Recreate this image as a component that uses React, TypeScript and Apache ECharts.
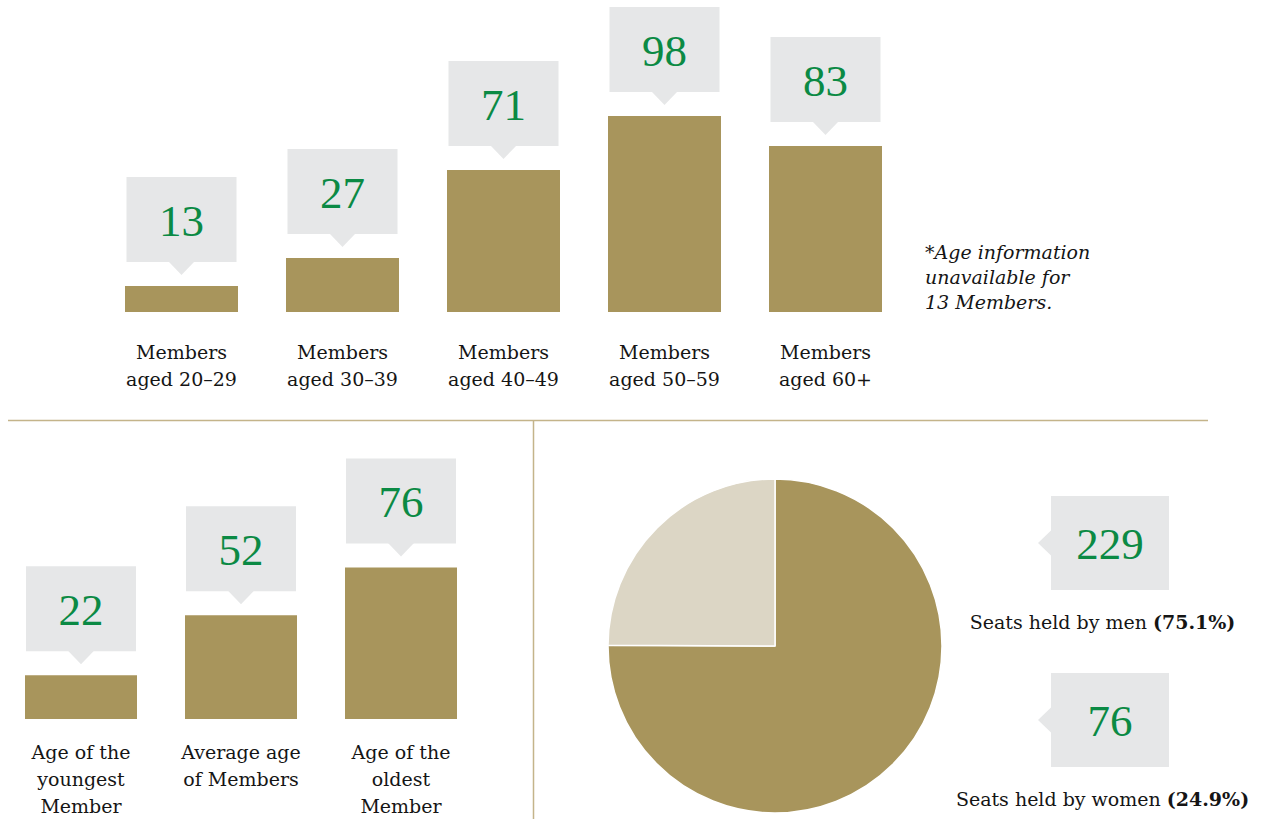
import React, { useEffect, useRef } from "react";
import * as echarts from "echarts";

const ageGroupLabels = [
  "Members\naged 20–29",
  "Members\naged 30–39",
  "Members\naged 40–49",
  "Members\naged 50–59",
  "Members\naged 60+",
];
const ageGroupCounts = [13, 27, 71, 98, 83];

const ageStatLabels = ["Age of the\nyoungest\nMember", "Average age\nof Members", "Age of the\noldest\nMember"];
const ageStatValues = [22, 52, 76];

const seatLabels = ["Seats held by men", "Seats held by women"];
const seatCounts = [229, 76];

const footnote = "*Age information\nunavailable for\n13 Members.";

const GOLD = "#a8955c";
const LIGHT = "#dcd6c5";
const BOX = "#e6e7e8";
const GREEN = "#0b8a44";
const INK = "#151515";
const RULE = "#c4b48a";
const LABEL_FONT = "DejaVu Serif";
const NUM_FONT = "Liberation Serif";
const LABEL_SIZE = 19;

function calloutRenderer(boxW: number) {
  return (_params: any, api: any) => {
    const p = api.coord([api.value(0), api.value(1)]);
    const x = p[0];
    const bb = p[1] - 24;
    const h = 85;
    return {
      type: "group",
      children: [
        { type: "rect", shape: { x: x - boxW / 2, y: bb - h, width: boxW, height: h }, style: { fill: BOX } },
        {
          type: "polygon",
          shape: { points: [[x - 13, bb - 0.5], [x + 13, bb - 0.5], [x, bb + 13]] },
          style: { fill: BOX },
        },
        {
          type: "text",
          x,
          y: bb - h / 2 + 1,
          style: {
            text: String(api.value(1)),
            fill: GREEN,
            fontSize: 45,
            fontFamily: NUM_FONT,
            align: "center",
            verticalAlign: "middle",
          },
        },
      ],
    };
  };
}

export default function App() {
  const ref = useRef<HTMLDivElement>(null);
  useEffect(() => {
    if (!ref.current) return;
    const chart = echarts.init(ref.current, undefined, { renderer: "svg" });
    const total = seatCounts.reduce((a, b) => a + b, 0);
    const seatPct = seatCounts.map((v) => ((v / total) * 100).toFixed(1));
    const seatCenters = [543, 720];

    const seatGraphics: any[] = [];
    seatCounts.forEach((v, i) => {
      const cy = seatCenters[i];
      seatGraphics.push(
        { type: "rect", shape: { x: 1051, y: cy - 47, width: 118, height: 94 }, style: { fill: BOX } },
        {
          type: "polygon",
          shape: { points: [[1051.5, cy - 13], [1051.5, cy + 13], [1038, cy]] },
          style: { fill: BOX },
        },
        {
          type: "text",
          x: 1110,
          y: cy + 1,
          style: {
            text: String(v),
            fill: GREEN,
            fontSize: 45,
            fontFamily: NUM_FONT,
            align: "center",
            verticalAlign: "middle",
          },
        },
        {
          type: "text",
          x: 1102.5,
          y: cy + 79,
          style: {
            text: seatLabels[i] + " {b|(" + seatPct[i] + "%)}",
            fill: INK,
            fontSize: LABEL_SIZE,
            fontFamily: LABEL_FONT,
            align: "center",
            verticalAlign: "middle",
            rich: { b: { fontWeight: "bold", fontSize: LABEL_SIZE, fontFamily: LABEL_FONT, fill: INK } },
          },
        }
      );
    });

    const axisLabelBase = {
      interval: 0,
      fontSize: LABEL_SIZE,
      lineHeight: 27,
      fontFamily: LABEL_FONT,
      color: INK,
    };

    chart.setOption({
      animation: false,
      backgroundColor: "#ffffff",
      grid: [
        { left: 101, top: 12, width: 805, height: 300 },
        { left: 1, top: 420, width: 480, height: 300 },
      ],
      xAxis: [
        {
          type: "category",
          gridIndex: 0,
          data: ageGroupLabels,
          axisLine: { show: false },
          axisTick: { show: false },
          axisLabel: { ...axisLabelBase, margin: 26 },
        },
        {
          type: "category",
          gridIndex: 1,
          data: ageStatLabels,
          axisLine: { show: false },
          axisTick: { show: false },
          axisLabel: { ...axisLabelBase, margin: 19 },
        },
      ],
      yAxis: [
        { type: "value", gridIndex: 0, min: 0, max: 150, show: false },
        { type: "value", gridIndex: 1, min: 0, max: 150, show: false },
      ],
      series: [
        {
          type: "bar",
          xAxisIndex: 0,
          yAxisIndex: 0,
          data: ageGroupCounts,
          barWidth: 113,
          itemStyle: { color: GOLD },
          silent: true,
        },
        {
          type: "custom",
          xAxisIndex: 0,
          yAxisIndex: 0,
          data: ageGroupCounts.map((v, i) => [i, v]),
          renderItem: calloutRenderer(110),
          silent: true,
        },
        {
          type: "bar",
          xAxisIndex: 1,
          yAxisIndex: 1,
          data: ageStatValues,
          barWidth: 112,
          itemStyle: { color: GOLD },
          silent: true,
        },
        {
          type: "custom",
          xAxisIndex: 1,
          yAxisIndex: 1,
          data: ageStatValues.map((v, i) => [i, v]),
          renderItem: calloutRenderer(110),
          silent: true,
        },
        {
          type: "pie",
          center: [775, 646],
          radius: 167,
          startAngle: 90,
          clockwise: true,
          silent: true,
          label: { show: false },
          labelLine: { show: false },
          itemStyle: { borderColor: "#ffffff", borderWidth: 1.5 },
          data: seatCounts.map((v, i) => ({
            value: v,
            name: seatLabels[i],
            itemStyle: { color: i === 0 ? GOLD : LIGHT },
          })),
        },
      ],
      graphic: [
        { type: "line", shape: { x1: 8, y1: 420.5, x2: 1208, y2: 420.5 }, style: { stroke: RULE, lineWidth: 1.5 } },
        { type: "line", shape: { x1: 533.5, y1: 421, x2: 533.5, y2: 819 }, style: { stroke: RULE, lineWidth: 1.5 } },
        {
          type: "text",
          x: 925,
          y: 239,
          style: {
            text: footnote,
            fill: INK,
            fontSize: LABEL_SIZE,
            fontStyle: "italic",
            fontFamily: LABEL_FONT,
            lineHeight: 25,
            align: "left",
            verticalAlign: "top",
          },
        },
        ...seatGraphics,
      ],
    });
    return () => chart.dispose();
  }, []);
  return (
    <div
      ref={ref}
      style={{ position: "absolute", left: 0, top: 0, width: 1266, height: 819 }}
    />
  );
}
